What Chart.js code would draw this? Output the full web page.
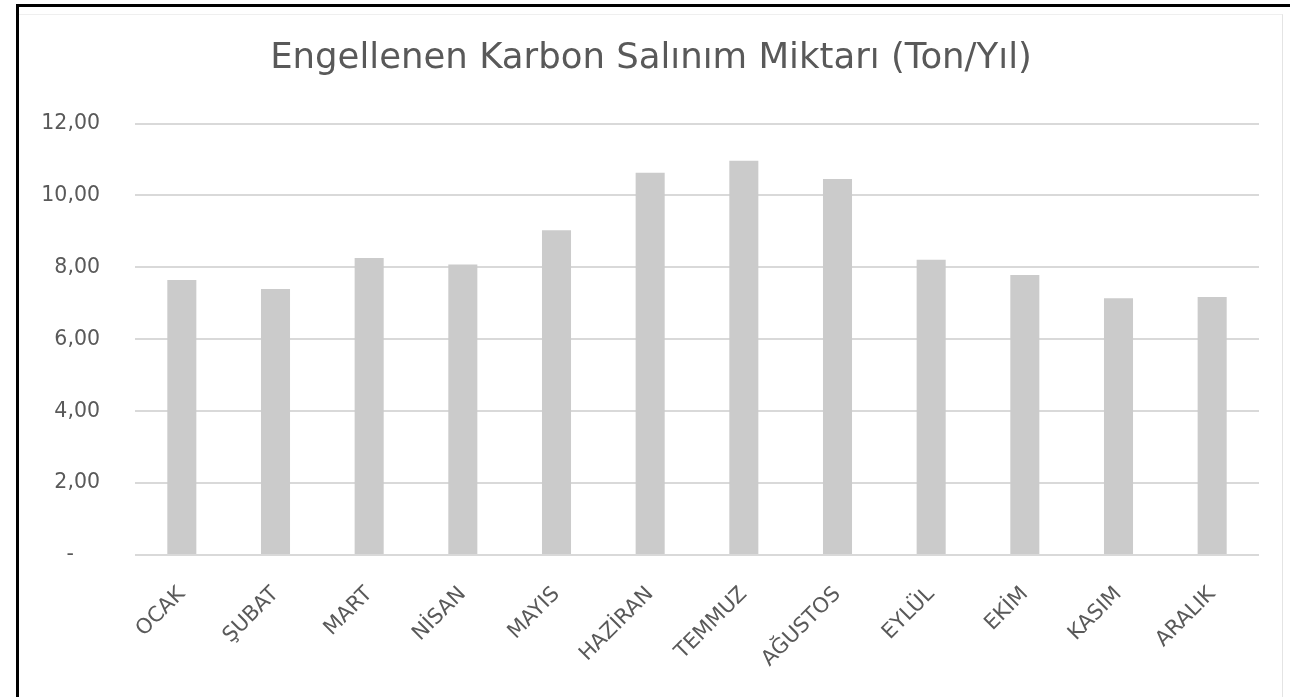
<!DOCTYPE html>
<html>
<head>
<meta charset="utf-8">
<script src="https://cdn.jsdelivr.net/npm/chart.js@4"></script>
<style>
  body { margin: 0; background: #fff; }
  #frame { position: absolute; left: 16px; top: 4px; width: 1290px; height: 700px;
           border-left: 3px solid #000; border-top: 3px solid #000; }
  #area { position: absolute; left: 19px; top: 14px; width: 1263px; height: 700px;
          border-right: 1px solid #e4e4e4; border-top: 1px solid #efefef; }
  #wrap { position: absolute; left: 0; top: 0; width: 1290px; height: 697px; }
</style>
</head>
<body>
<div id="frame"></div>
<div id="area"></div>
<div id="wrap"><canvas id="chart"></canvas></div>
<script>
/* chart data */
let months = ['OCAK', 'ŞUBAT', 'MART', 'NİSAN', 'MAYIS', 'HAZİRAN', 'TEMMUZ', 'AĞUSTOS', 'EYLÜL', 'EKİM', 'KASIM', 'ARALIK']
let carbonValues = [7.65, 7.40, 8.26, 8.08, 9.03, 10.63, 10.97, 10.46, 8.21, 7.79, 7.14, 7.18]
let yTicks = [0, 2, 4, 6, 8, 10, 12]
let chartTitle = 'Engellenen Karbon Salınım Miktarı (Ton/Yıl)'

let textGray = '#595959'
let fontName = "'DejaVu Sans', sans-serif"

let ctx = document.querySelector('#chart').getContext('2d')

// left padding 43 so the title centres at x ~651 like the picture
let carbonChart = new Chart(ctx, {
    type: 'bar',
    data: {
        labels: months,
        datasets: [
            {
            data: carbonValues,
            backgroundColor: '#cbcbcb',
            categoryPercentage: 1,
            barPercentage: 0.31
            }
        ]
    },
    options: {
        responsive: true,
        maintainAspectRatio: false,
        animation: false,
        layout: { padding: { left: 43, right: 31, top: 0, bottom: 0 } },
        plugins: {
            legend: { display: false },
            tooltip: { enabled: false },
            title: {
                display: true,
                text: chartTitle,
                color: textGray,
                font: { family: fontName, size: 35.5, weight: 'normal', lineHeight: 1.2 },
                padding: { top: 37, bottom: 44 }
            }
        },
        scales: {
            x: {
                grid: { display: false },
                border: { display: false },
                ticks: {
                    color: textGray,
                    font: { family: fontName, size: 21 },
                    minRotation: 45,
                    maxRotation: 45,
                    padding: 19
                },
                afterFit: function(scale) { scale.height = 142 }
            },
            y: {
                min: 0,
                max: 12,
                afterBuildTicks: function(scale) {
                    scale.ticks = yTicks.map(v => ({ value: v }))
                },
                grid: { color: '#d9d9d9', lineWidth: 2, drawTicks: false },
                border: { display: false },
                ticks: {
                    color: textGray,
                    font: { family: fontName, size: 20.5 },
                    padding: 35,
                    callback: function(value) {
                        if (value === 0) return '-    '
                        return value.toFixed(2).replace('.', ',')
                    }
                },
                afterFit: function(scale) { scale.width = 92 }
            }
        }
    }
})
</script>
</body>
</html>
